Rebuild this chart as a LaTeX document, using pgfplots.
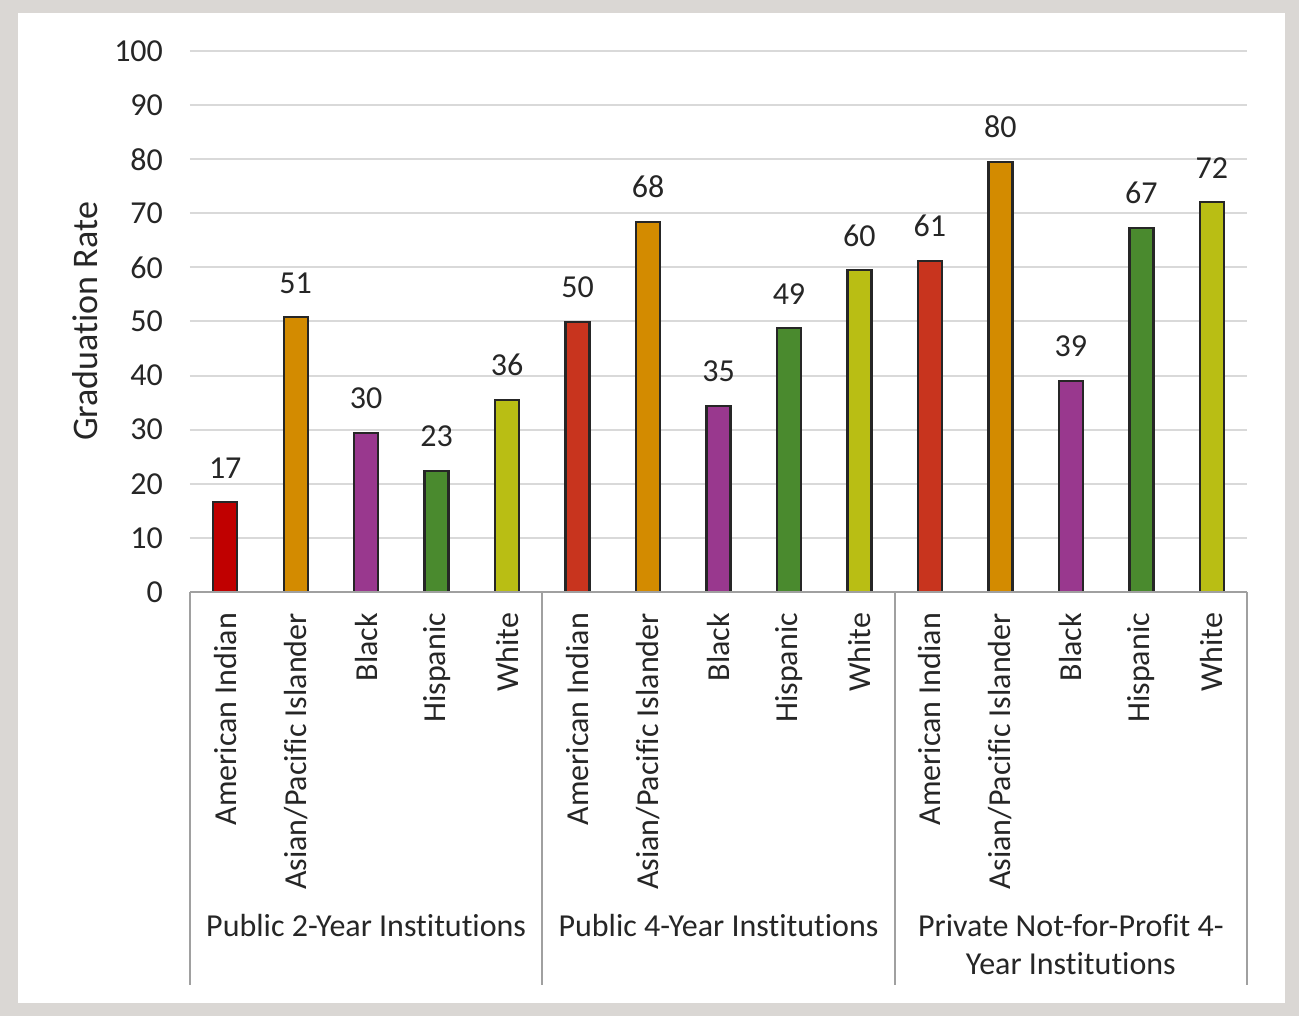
\documentclass[border=0pt]{standalone}
\usepackage{fontspec}
\setmainfont{Carlito}[Ligatures=NoCommon]
\usepackage{pgfplots}
\pgfplotsset{compat=1.18}
\definecolor{bgframe}{RGB}{218,215,212}
\definecolor{gridgray}{RGB}{217,217,217}
\definecolor{sepgray}{RGB}{160,160,160}
\definecolor{txt}{RGB}{38,38,38}
\definecolor{cAIa}{RGB}{192,0,0}
\definecolor{cAI}{RGB}{200,52,30}
\definecolor{cAPI}{RGB}{211,139,0}
\definecolor{cBlk}{RGB}{153,56,142}
\definecolor{cHis}{RGB}{74,138,46}
\definecolor{cWht}{RGB}{185,190,20}
\begin{document}
\fontsize{16}{19}\selectfont
\begin{tikzpicture}
\fill[bgframe] (-95pt,-212pt) rectangle (554.5pt,296pt);
\fill[white] (-86pt,-205.5pt) rectangle (547.5pt,289.5pt);
\begin{axis}[
  scale only axis, width=528.5pt, height=270.5pt,
  at={(0,0)}, anchor=south west,
  xmin=-0.5, xmax=14.5, ymin=0, ymax=100,
  ytick={0,10,...,100},
  xtick={0,...,14},
  xticklabels={American Indian, Asian/Pacific Islander, Black, Hispanic, White,
               American Indian, Asian/Pacific Islander, Black, Hispanic, White,
               American Indian, Asian/Pacific Islander, Black, Hispanic, White},
  x tick label style={rotate=90, anchor=east, font=\fontsize{16}{19}\selectfont, text=txt, xshift=-5pt},
  y tick label style={font=\fontsize{16}{19}\selectfont, text=txt, xshift=-8pt},
  /pgf/number format/assume math mode=true,
  major tick length=0pt,
  ymajorgrids, grid style={line width=1pt, draw=gridgray},
  axis line style={draw=none},
  ybar, bar width=12pt,
  nodes near coords, point meta=explicit symbolic,
  nodes near coords style={font=\fontsize{16}{19}\selectfont, text=txt, anchor=south, yshift=6pt},
  clip=false,
]
\addplot[bar shift=0pt, fill=cAIa, draw=txt, line width=1.2pt] coordinates {(0,16.6) [17]};
\addplot[bar shift=0pt, fill=cAI, draw=txt, line width=1.2pt] coordinates {(5,49.9) [50] (10,61.2) [61]};
\addplot[bar shift=0pt, fill=cAPI, draw=txt, line width=1.2pt] coordinates {(1,50.8) [51] (6,68.4) [68] (11,79.5) [80]};
\addplot[bar shift=0pt, fill=cBlk, draw=txt, line width=1.2pt] coordinates {(2,29.4) [30] (7,34.4) [35] (12,39.0) [39]};
\addplot[bar shift=0pt, fill=cHis, draw=txt, line width=1.2pt] coordinates {(3,22.4) [23] (8,48.8) [49] (13,67.3) [67]};
\addplot[bar shift=0pt, fill=cWht, draw=txt, line width=1.2pt] coordinates {(4,35.5) [36] (9,59.5) [60] (14,72.1) [72]};
\end{axis}
\node[rotate=90, text=txt, font=\fontsize{18}{21}\selectfont] at (-52.5pt,135.25pt) {Graduation Rate};
\draw[sepgray, line width=1pt] (0,0) -- (528.5pt,0);
\foreach \x in {0,176.1667,352.3333,528.5} {
  \draw[sepgray, line width=1pt] (\x pt,0) -- (\x pt,-196.5pt);
}
\node[text=txt, font=\fontsize{16}{19}\selectfont] at (88.08pt,-167pt) {Public 2-Year Institutions};
\node[text=txt, font=\fontsize{16}{19}\selectfont] at (264.25pt,-167pt) {Public 4-Year Institutions};
\node[text=txt, font=\fontsize{16}{19}\selectfont, align=center] at (440.42pt,-176.5pt) {Private Not-for-Profit 4-\\Year Institutions};
\end{tikzpicture}
\end{document}
